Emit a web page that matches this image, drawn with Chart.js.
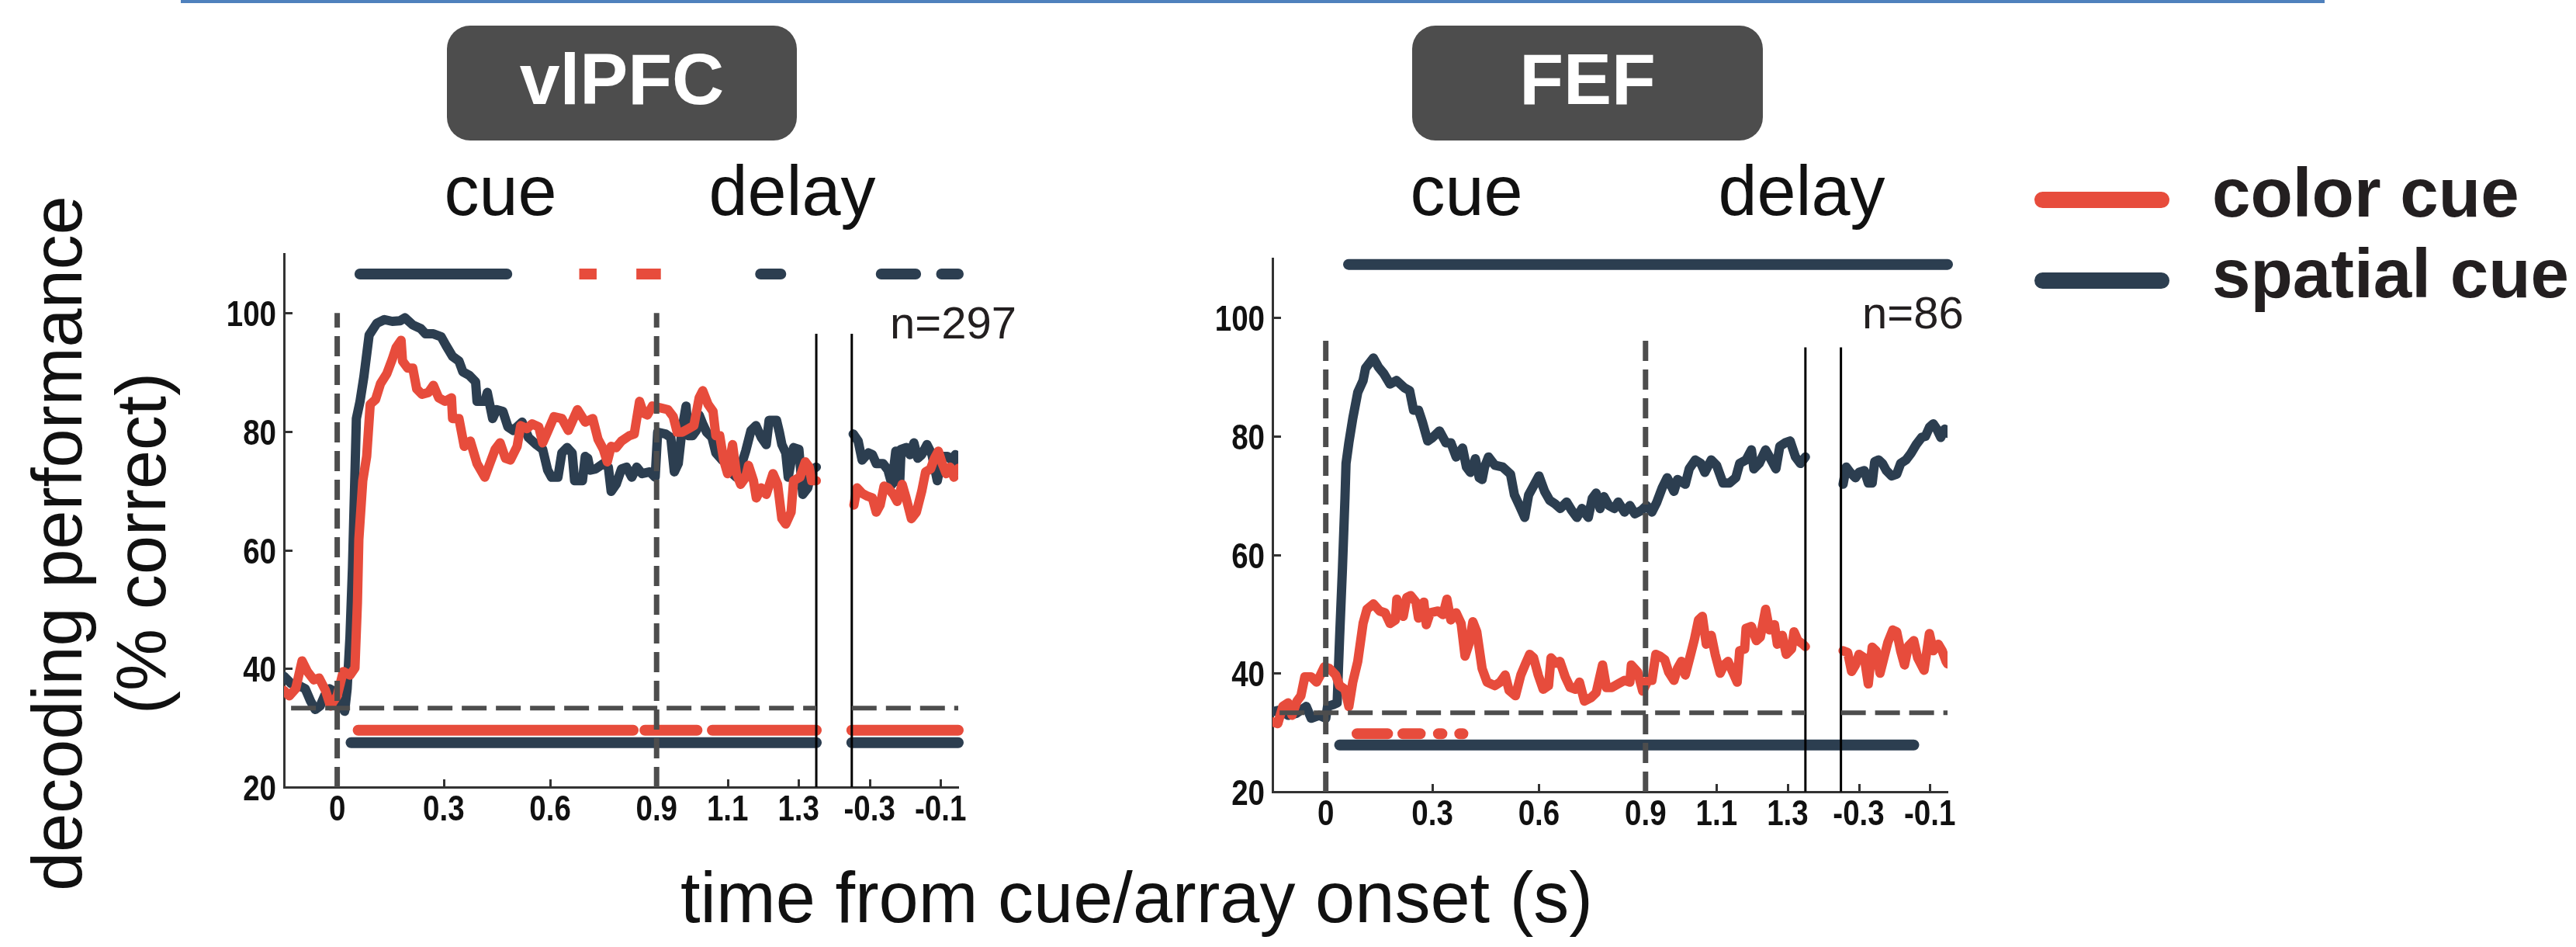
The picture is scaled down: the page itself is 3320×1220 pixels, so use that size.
<!DOCTYPE html>
<html><head><meta charset="utf-8">
<script src="https://cdn.jsdelivr.net/npm/chart.js@4.4.0/dist/chart.umd.min.js"></script>
<style>
html,body{margin:0;padding:0;background:#fff;}
body{width:3320px;height:1220px;position:relative;overflow:hidden;font-family:"Liberation Sans",Arial,Helvetica,sans-serif;color:#111;}
.abs{position:absolute;white-space:nowrap;line-height:1;}
.box{position:absolute;background:#4d4d4d;border-radius:30px;}
.hdr{position:absolute;white-space:nowrap;line-height:1;color:#fff;font-weight:bold;font-size:93px;text-align:center;}
.ep{font-size:90px;text-align:center;width:300px;}
.leg{font-size:89px;font-weight:bold;color:#231f20;}
.legline{position:absolute;height:21px;border-radius:11px;}
.rot{position:absolute;white-space:nowrap;line-height:1;font-size:90px;transform:translate(-50%,-50%) rotate(-90deg);}
canvas{position:absolute;}
</style></head><body>
<div class="abs" style="left:233px;top:0;width:2763px;height:4px;background:#4f81bd;"></div>

<div class="box" style="left:576px;top:33px;width:451px;height:148px;"></div>
<div class="hdr" style="left:576px;top:56px;width:451px;">vlPFC</div>
<div class="box" style="left:1820px;top:33px;width:452px;height:148px;"></div>
<div class="hdr" style="left:1820px;top:56px;width:452px;">FEF</div>

<div class="abs ep" style="left:495px;top:201px;">cue</div>
<div class="abs ep" style="left:871px;top:201px;">delay</div>
<div class="abs ep" style="left:1740px;top:201px;">cue</div>
<div class="abs ep" style="left:2172px;top:201px;">delay</div>

<div class="legline" style="left:2622px;top:247px;width:174px;background:#e74c3c;"></div>
<div class="legline" style="left:2622px;top:351px;width:174px;background:#2c3e50;"></div>
<div class="abs leg" style="left:2851px;top:204px;">color cue</div>
<div class="abs leg" style="left:2851px;top:308px;">spatial cue</div>

<div class="abs" style="left:1147px;top:387px;font-size:58px;color:#231f20;">n=297</div>
<div class="abs" style="left:2400px;top:374px;font-size:58px;color:#231f20;">n=86</div>

<div class="rot" style="left:74px;top:700px;">decoding performance</div>
<div class="rot" style="left:182px;top:700px;">(% correct)</div>
<div class="abs" style="left:0;width:2930px;top:1110px;font-size:92px;text-align:center;">time from cue/array onset (s)</div>

<canvas id="c1" width="1000" height="780" style="left:250px;top:300px;"></canvas>
<canvas id="c2" width="1000" height="780" style="left:1524px;top:306px;"></canvas>

<script>
// ---------- axes ----------
const yTicks = [20, 40, 60, 80, 100];
const xTicksCue = [0, 0.3, 0.6, 0.9, 1.1, 1.3];     // time from cue onset (s)
const xTicksArray = [-0.3, -0.1];                     // time from array onset (s)
const cueRange = [-0.15, 1.35];
const arrayRange = [-0.35, -0.05];
const chanceLevel = 33.33;

// ---------- vlPFC (n=297) : [time, % correct] ----------
const vlpfcColorCue = [[-0.15,36.3],[-0.135,35.4],[-0.117,36.6],[-0.099,41.3],[-0.084,39.5],[-0.066,38.1],[-0.051,38.4],[-0.033,36.3],[-0.019,33.7],[0,35.4],[0.017,39.5],[0.036,38.9],[0.05,40.1],[0.057,51.2],[0.061,61.8],[0.072,71.7],[0.083,75.8],[0.093,84.6],[0.108,85.4],[0.122,88.1],[0.14,89.8],[0.155,92.2],[0.166,94.2],[0.18,95.4],[0.184,91.9],[0.199,90.7],[0.213,90.7],[0.224,87.2],[0.239,86.3],[0.257,86.6],[0.271,87.8],[0.286,85.7],[0.304,85.1],[0.322,85.7],[0.325,82.2],[0.343,82.2],[0.358,77.5],[0.375,78.4],[0.394,74.6],[0.416,72.3],[0.43,74.6],[0.445,77],[0.459,78.1],[0.474,75.5],[0.488,75.2],[0.507,77.5],[0.517,81],[0.535,80.5],[0.549,81.3],[0.568,80.8],[0.579,78.1],[0.593,80],[0.611,82.5],[0.633,82.2],[0.651,80.2],[0.677,83.7],[0.699,81.6],[0.72,82.2],[0.735,78.7],[0.75,77],[0.761,74.9],[0.772,77.5],[0.786,77.3],[0.801,78.4],[0.823,79.3],[0.837,79.6],[0.852,85.1],[0.863,83.1],[0.874,82.8],[0.888,84.3],[0.91,84],[0.932,83.7],[0.947,82.5],[0.958,79.9],[0.972,79.9],[0.99,80.5],[1.005,81],[1.02,85.7],[1.03,86.9],[1.045,84.6],[1.059,83.4],[1.067,79.3],[1.078,79.3],[1.089,75.2],[1.1,72.9],[1.114,77.8],[1.125,72.9],[1.137,71.1],[1.151,72.3],[1.159,74.3],[1.173,71.7],[1.181,68.8],[1.195,70.5],[1.209,69.4],[1.228,72.9],[1.241,71.1],[1.253,65.3],[1.264,64.4],[1.279,66.4],[1.286,71.7],[1.304,72.3],[1.319,74.9],[1.33,74],[1.337,71.7],[1.35,71.7]];
const vlpfcColorArray = [[-0.344,67.6],[-0.335,70.5],[-0.321,69.6],[-0.306,69.1],[-0.292,68.8],[-0.281,66.4],[-0.27,67.6],[-0.259,70.8],[-0.248,70.5],[-0.233,69.4],[-0.222,68.2],[-0.208,71.1],[-0.197,68.8],[-0.182,65.3],[-0.168,66.4],[-0.153,69.9],[-0.142,73.2],[-0.128,73.7],[-0.117,75.5],[-0.106,76.7],[-0.095,74.6],[-0.084,72.9],[-0.073,74],[-0.062,72.3],[-0.05,73.8]];
const vlpfcSpatialCue = [[-0.15,38.7],[-0.13,37.5],[-0.11,37.2],[-0.09,36.6],[-0.075,34.5],[-0.062,33.1],[-0.048,33.7],[-0.035,35.5],[-0.022,36.6],[-0.01,36.2],[0,34.9],[0.021,32.8],[0.028,36.6],[0.036,45.4],[0.043,57],[0.054,82.2],[0.064,85],[0.075,89.2],[0.09,96.3],[0.112,98.3],[0.133,98.9],[0.155,98.6],[0.177,98.7],[0.191,99.2],[0.213,98],[0.235,97.4],[0.249,96.5],[0.271,96.5],[0.293,96],[0.307,94.5],[0.325,92.7],[0.343,91.9],[0.354,90.1],[0.372,89.5],[0.39,88.4],[0.394,85.1],[0.416,85.1],[0.423,86.6],[0.438,82.2],[0.449,83.7],[0.467,83.4],[0.481,80.8],[0.496,80.2],[0.521,81.6],[0.539,79],[0.561,77.8],[0.579,77],[0.593,73.5],[0.604,72.3],[0.622,72.3],[0.633,76.4],[0.648,77.3],[0.662,76.4],[0.669,71.7],[0.691,71.7],[0.699,75.8],[0.706,75.5],[0.713,73.5],[0.728,73.7],[0.75,74.6],[0.764,74],[0.772,69.9],[0.786,71.1],[0.801,73.7],[0.815,74],[0.83,72.3],[0.844,74],[0.859,72.9],[0.881,73.2],[0.896,72.3],[0.903,79.9],[0.925,79.6],[0.94,79],[0.95,73.2],[0.961,74.6],[0.972,80.5],[0.983,84.3],[0.99,79.3],[1.001,79.3],[1.012,80.2],[1.02,82.8],[1.03,81.3],[1.041,79.9],[1.056,79],[1.067,76.4],[1.085,75.2],[1.1,74.6],[1.114,72.9],[1.125,72.3],[1.137,74],[1.151,76.7],[1.166,80.2],[1.18,81],[1.195,79],[1.209,77.8],[1.217,81.9],[1.238,81.9],[1.246,79.9],[1.253,77.8],[1.264,76.4],[1.271,72.3],[1.286,77.3],[1.301,77],[1.312,69.4],[1.326,70.5],[1.337,73.5],[1.35,74]];
const vlpfcSpatialArray = [[-0.346,79.6],[-0.332,78.4],[-0.321,75.2],[-0.303,76.4],[-0.292,76.1],[-0.281,74.6],[-0.262,74.6],[-0.248,73.5],[-0.237,71.1],[-0.226,76.7],[-0.215,71.4],[-0.211,77],[-0.197,77.3],[-0.186,76.1],[-0.175,78.1],[-0.164,75.5],[-0.153,76.1],[-0.138,77.8],[-0.124,76.1],[-0.109,71.7],[-0.095,75.8],[-0.08,75.8],[-0.069,75.2],[-0.058,76.1],[-0.05,74.6]];
// significance bars: [segment, start, segment, end]  (segment 1 = cue-aligned, 2 = array-aligned)
const vlpfcSigTopSpatial = [[1,0.064,1,0.478],[1,1.193,1,1.25],[2,-0.267,2,-0.17],[2,-0.097,2,-0.05]];
const vlpfcSigTopColor = [[1,0.682,1,0.731],[1,0.843,1,0.912]];
const vlpfcSigBottomColor = [[1,0.059,1,0.834],[1,0.867,1,1.014],[1,1.057,1,1.35],[2,-0.35,2,-0.05]];
const vlpfcSigBottomSpatial = [[1,0.039,1,1.35],[2,-0.35,2,-0.05]];
const vlpfcSigLevels = [106.6, 29.6, 27.5];   // top row, color row, spatial row (% correct)

// ---------- FEF (n=86) ----------
const fefColorCue = [[-0.15,31.8],[-0.135,31.5],[-0.121,34.4],[-0.106,35],[-0.095,32.9],[-0.081,35.3],[-0.07,36.2],[-0.059,39.4],[-0.041,39.4],[-0.026,38.5],[-0.015,39.7],[-0.004,41.1],[0.01,40.8],[0.028,39.7],[0.039,37.9],[0.054,37.3],[0.065,34.4],[0.076,38.5],[0.09,42],[0.105,48.4],[0.116,50.8],[0.134,51.7],[0.152,50.5],[0.167,50.2],[0.181,48.4],[0.196,49],[0.2,52.5],[0.218,49.6],[0.228,52.8],[0.239,53.1],[0.254,52],[0.261,49.3],[0.276,52],[0.283,48.2],[0.294,50.2],[0.316,50.5],[0.33,49.9],[0.341,52.5],[0.352,49],[0.367,50.2],[0.381,48.4],[0.392,42.9],[0.403,44.9],[0.414,48.7],[0.425,47],[0.44,40.8],[0.454,38.5],[0.476,37.9],[0.491,38.5],[0.505,39.7],[0.516,37.1],[0.534,36.2],[0.549,39.7],[0.563,41.7],[0.574,43.2],[0.585,42.6],[0.598,39.7],[0.612,37.3],[0.627,37.9],[0.634,42.6],[0.648,41.7],[0.659,42],[0.674,39.4],[0.688,37.6],[0.703,37.3],[0.714,38.5],[0.728,35.3],[0.747,35.9],[0.761,36.7],[0.779,41.4],[0.79,37.6],[0.805,37.6],[0.823,38.2],[0.841,38.8],[0.856,38.5],[0.86,41.4],[0.878,40.2],[0.892,37],[0.907,38.8],[0.918,38.8],[0.929,43.2],[0.94,42.9],[0.954,42.3],[0.965,40.2],[0.98,38.8],[0.99,40.8],[1.001,42],[1.012,39.7],[1.027,43.2],[1.038,45.8],[1.049,49],[1.06,49.6],[1.071,44.9],[1.085,46.4],[1.096,43.2],[1.11,40],[1.121,41.4],[1.132,42],[1.147,40],[1.158,38.5],[1.165,43.8],[1.179,44.1],[1.183,47.6],[1.198,47.9],[1.212,45.5],[1.223,46.1],[1.238,50.8],[1.249,47.3],[1.263,48.2],[1.271,44.9],[1.285,46.4],[1.296,43.2],[1.311,44.1],[1.318,47],[1.329,45.5],[1.343,44.9],[1.35,44.5]];
const fefColorArray = [[-0.344,43.8],[-0.331,43.5],[-0.32,40.3],[-0.309,41.4],[-0.299,43.2],[-0.284,42.6],[-0.273,38.2],[-0.262,44.4],[-0.251,43.8],[-0.24,40],[-0.229,42.6],[-0.218,45.2],[-0.204,47.3],[-0.193,47],[-0.182,43.8],[-0.171,41.4],[-0.16,44.6],[-0.145,45.5],[-0.134,42.6],[-0.116,40.5],[-0.101,46.7],[-0.09,43.8],[-0.076,44.9],[-0.065,43.8],[-0.054,42],[-0.05,41.6]];
const fefSpatialCue = [[-0.15,33.5],[-0.128,33.8],[-0.106,32.9],[-0.084,33.2],[-0.055,34.4],[-0.041,32.4],[-0.019,32.9],[0,32.4],[0.005,34.4],[0.021,34.7],[0.032,35],[0.039,46.1],[0.047,57.8],[0.054,69.5],[0.057,75.4],[0.065,78.9],[0.076,83],[0.09,87.4],[0.105,89.4],[0.112,91.5],[0.134,93.2],[0.148,91.7],[0.163,90.6],[0.181,88.8],[0.199,89.4],[0.221,88.2],[0.236,87.7],[0.247,84.4],[0.261,84.4],[0.272,82.4],[0.287,79.2],[0.301,79.8],[0.32,80.9],[0.338,78.9],[0.352,78.9],[0.367,76.5],[0.385,78],[0.396,74.8],[0.407,73.9],[0.421,76.2],[0.432,73],[0.44,72.7],[0.447,74.8],[0.458,76.5],[0.476,75.1],[0.498,74.8],[0.52,73.6],[0.531,70.1],[0.545,68.3],[0.56,66.3],[0.571,70.1],[0.582,71.3],[0.6,73.3],[0.616,70.7],[0.63,69.2],[0.645,68.6],[0.66,67.8],[0.678,68.9],[0.692,67.5],[0.707,66.3],[0.721,67.8],[0.739,66.3],[0.75,69.5],[0.761,70.4],[0.772,67.8],[0.783,69.8],[0.797,68.3],[0.812,67.8],[0.823,68.9],[0.841,67.2],[0.856,68.3],[0.87,66.9],[0.889,67.5],[0.903,68.3],[0.918,67.2],[0.932,68.9],[0.947,71.3],[0.961,73],[0.98,70.7],[0.99,72.7],[1.012,71.9],[1.023,74.5],[1.04,76],[1.056,75.4],[1.067,73.9],[1.085,76],[1.1,75.1],[1.118,72.1],[1.136,72.1],[1.154,73],[1.165,75.4],[1.183,76],[1.198,77.7],[1.205,74.5],[1.22,75.4],[1.238,77.7],[1.249,76.5],[1.267,74.5],[1.278,78.3],[1.293,78.9],[1.307,79.2],[1.322,76.5],[1.336,75.4],[1.35,76.5]];
const fefSpatialArray = [[-0.344,71.9],[-0.335,74.8],[-0.324,73.9],[-0.309,73],[-0.299,73.9],[-0.284,74.2],[-0.273,72.1],[-0.262,72.1],[-0.255,75.7],[-0.244,76],[-0.233,75.4],[-0.222,74.2],[-0.207,73.3],[-0.193,73.6],[-0.182,75.4],[-0.167,76],[-0.153,77.1],[-0.138,78.6],[-0.123,79.8],[-0.112,80],[-0.101,81.5],[-0.09,82.1],[-0.08,81.2],[-0.069,79.8],[-0.058,81.2],[-0.05,80.5]];
const fefSigTopSpatial = [[1,0.064,2,-0.05]];
const fefSigTopColor = [];
const fefSigBottomColor = [[1,0.088,1,0.174],[1,0.217,1,0.266],[1,0.317,1,0.327],[1,0.377,1,0.386]];
const fefSigBottomSpatial = [[1,0.039,2,-0.145]];
const fefSigLevels = [109, 29.8, 27.9];

// reference-line extents (% correct)
const vlpfcEventTop = 100, fefEventTop = 97.5;
const vlpfcBreakTop = 96.5, fefBreakTop = 95;

// ---------- helpers ----------
const SEG2_OFFSET = 1.8;   // array-aligned segment placed after a 0.1 s gap
const toX = (seg, t) => seg === 1 ? t : t + SEG2_OFFSET;
const RED = '#e74c3c', NAVY = '#2c3e50', GREY = '#4d4d4d';
const xTickPos = [...xTicksCue.map(t => toX(1, t)), ...xTicksArray.map(t => toX(2, t))];
const xTickLabel = new Map();
xTicksCue.forEach(t => xTickLabel.set(toX(1, t).toFixed(3), t === 0 ? '0' : t.toFixed(1)));
xTicksArray.forEach(t => xTickLabel.set(toX(2, t).toFixed(3), t.toFixed(1)));
const labelOf = v => xTickLabel.get(Number(v).toFixed(3)) || '';

function curve(pairs, seg) { return pairs.map(([t, v]) => ({x: toX(seg, t), y: v})); }
function bars(ranges, level) {
  const pts = [];
  ranges.forEach(([s1, a, s2, b]) => { pts.push({x: toX(s1, a), y: level}, {x: toX(s2, b), y: level}, {x: toX(s2, b), y: null}); });
  return pts;
}

// inward tick marks + condensed bold tick labels, positioned by the chart's scales
const TICK_FONT = 'bold 47px "Liberation Sans", Arial, sans-serif';
const NARROW = 0.82;
const axisDecor = {
  id: 'axisDecor',
  beforeDatasetsDraw(chart) {
    const {ctx, chartArea: a, scales: {x, y}} = chart;
    ctx.save(); ctx.strokeStyle = '#333'; ctx.lineWidth = 3; ctx.beginPath();
    y.ticks.forEach(t => { const p = Math.round(y.getPixelForValue(t.value)) + 0.5; ctx.moveTo(a.left, p); ctx.lineTo(a.left + 11, p); });
    x.ticks.forEach(t => { const p = Math.round(x.getPixelForValue(t.value)) + 0.5; ctx.moveTo(p, a.bottom); ctx.lineTo(p, a.bottom - 10); });
    ctx.stroke(); ctx.restore();
  },
  afterDraw(chart) {
    const {ctx, chartArea: a, scales: {x, y}} = chart;
    ctx.save(); ctx.font = TICK_FONT; ctx.fillStyle = '#111'; ctx.textBaseline = 'alphabetic';
    y.ticks.forEach(t => {
      const p = y.getPixelForValue(t.value);
      ctx.save(); ctx.translate(a.left - 10, p + 17); ctx.scale(NARROW, 1); ctx.textAlign = 'right'; ctx.fillText(String(t.value), 0, 0); ctx.restore();
    });
    x.ticks.forEach(t => {
      const p = x.getPixelForValue(t.value);
      ctx.save(); ctx.translate(p, a.bottom + 43); ctx.scale(NARROW, 1); ctx.textAlign = 'center'; ctx.fillText(labelOf(t.value), 0, 0); ctx.restore();
    });
    ctx.restore();
  }
};

function makePanel(canvasId, d) {
  const lineDs = (data, color, width, extra) => Object.assign({data, borderColor: color, borderWidth: width, pointRadius: 0, tension: 0, fill: false, spanGaps: false, borderJoinStyle: 'round', borderCapStyle: 'round'}, extra || {});
  const c1 = toX(1, cueRange[0]), c2 = toX(1, cueRange[1]), a1 = toX(2, arrayRange[0]), a2 = toX(2, arrayRange[1]);
  const datasets = [
    // reference lines (on top)
    lineDs([{x: toX(1, 0), y: 20}, {x: toX(1, 0), y: d.eventTop}], GREY, 7, {borderDash: [26, 11], borderCapStyle: 'butt', order: 0}),
    lineDs([{x: toX(1, 0.9), y: 20}, {x: toX(1, 0.9), y: d.eventTop}], GREY, 7, {borderDash: [26, 11], borderCapStyle: 'butt', order: 0}),
    lineDs([{x: toX(1, -0.13), y: chanceLevel}, {x: c2, y: chanceLevel}, {x: c2, y: null}, {x: a1, y: chanceLevel}, {x: a2, y: chanceLevel}], GREY, 6, {borderDash: [32, 12], borderCapStyle: 'butt', order: 0}),
    lineDs([{x: c2, y: 20}, {x: c2, y: d.breakTop}], '#000', 3, {borderCapStyle: 'butt', order: 0}),
    lineDs([{x: a1, y: 20}, {x: a1, y: d.breakTop}], '#000', 3, {borderCapStyle: 'butt', order: 0}),
    // decoding curves
    lineDs(curve(d.colorCue, 1), RED, 12, {order: 1}),
    lineDs(curve(d.colorArray, 2), RED, 12, {order: 1}),
    lineDs(curve(d.spatialCue, 1), NAVY, 12, {order: 2}),
    lineDs(curve(d.spatialArray, 2), NAVY, 12, {order: 2}),
    // significance bars
    lineDs(bars(d.sigTopSpatial, d.levels[0]), NAVY, 14, {order: 3, clip: false}),
    lineDs(bars(d.sigTopColor, d.levels[0]), RED, 14, {order: 3, clip: false, borderCapStyle: 'butt'}),
    lineDs(bars(d.sigBottomColor, d.levels[1]), RED, 14, {order: 3, clip: false}),
    lineDs(bars(d.sigBottomSpatial, d.levels[2]), NAVY, 14, {order: 3, clip: false}),
  ];
  return new Chart(document.getElementById(canvasId), {
    type: 'line',
    data: {datasets},
    options: {
      responsive: false, animation: false, devicePixelRatio: 1,
      layout: {padding: {left: 0, right: d.padRight, top: 27, bottom: 0}},
      plugins: {legend: {display: false}, tooltip: {enabled: false}},
      scales: {
        x: {
          type: 'linear', min: c1, max: a2,
          afterBuildTicks: s => { s.ticks = xTickPos.map(v => ({value: v})); },
          afterFit: s => { s.height = 66; },
          grid: {display: false, drawTicks: false},
          border: {display: true, color: '#333', width: 3},
          ticks: {display: false, autoSkip: false, callback: v => labelOf(v)}
        },
        y: {
          type: 'linear', min: 20, max: 110,
          afterBuildTicks: s => { s.ticks = yTicks.map(v => ({value: v})); },
          afterFit: s => { s.width = 116; },
          grid: {display: false, drawTicks: false},
          border: {display: true, color: '#333', width: 3},
          ticks: {display: false}
        }
      }
    },
    plugins: [axisDecor]
  });
}

makePanel('c1', {colorCue: vlpfcColorCue, colorArray: vlpfcColorArray, spatialCue: vlpfcSpatialCue, spatialArray: vlpfcSpatialArray,
  sigTopSpatial: vlpfcSigTopSpatial, sigTopColor: vlpfcSigTopColor, sigBottomColor: vlpfcSigBottomColor, sigBottomSpatial: vlpfcSigBottomSpatial,
  levels: vlpfcSigLevels, eventTop: vlpfcEventTop, breakTop: vlpfcBreakTop, padRight: 15});
makePanel('c2', {colorCue: fefColorCue, colorArray: fefColorArray, spatialCue: fefSpatialCue, spatialArray: fefSpatialArray,
  sigTopSpatial: fefSigTopSpatial, sigTopColor: fefSigTopColor, sigBottomColor: fefSigBottomColor, sigBottomSpatial: fefSigBottomSpatial,
  levels: fefSigLevels, eventTop: fefEventTop, breakTop: fefBreakTop, padRight: 14});
</script>
</body></html>
